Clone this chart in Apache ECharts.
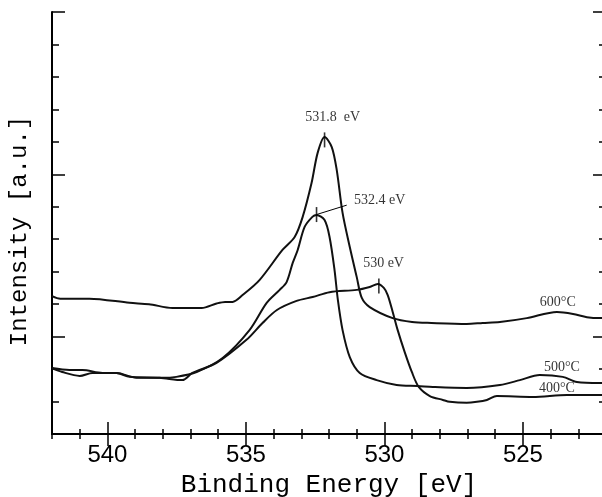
<!DOCTYPE html>
<html>
<head>
<meta charset="utf-8">
<script src="https://cdn.jsdelivr.net/npm/echarts@6/dist/echarts.min.js"></script>
<style>
html,body{margin:0;padding:0;background:#fff;}
#c{width:602px;height:497px;}
</style>
</head>
<body>
<div id="c"></div>
<script>
// Binding energy (eV) vs intensity (a.u.)
const curve600 = [
  [542.0,4.25],[541.7,4.17],[540.65,4.17],[539.2,4.04],[538.5,4.0],[537.65,3.88],[536.6,3.88],
  [536.06,4.02],[535.75,4.07],[535.48,4.07],[535.12,4.28],[534.51,4.74],[533.68,5.67],
  [533.24,6.07],[532.95,6.69],[532.63,7.73],[532.41,8.66],[532.16,9.15],[531.9,8.84],[531.72,8.13],
  [531.51,6.81],[531.25,5.76],[531.0,4.84],[530.82,4.2],[530.53,3.91],[529.7,3.57],[529.0,3.45],
  [528.3,3.42],[527.03,3.39],[526.45,3.42],[525.83,3.45],[524.86,3.57],[523.77,3.76],[523.19,3.7],
  [522.69,3.6],[522.22,3.57],[522.0,3.57]
];
const curve500 = [
  [542.0,2.03],[541.37,1.97],[540.9,1.97],[540.18,1.88],[539.67,1.88],[538.95,1.73],[538.01,1.73],
  [537.51,1.76],[536.78,1.91],[535.84,2.34],[534.87,3.2],[534.25,4.04],[533.78,4.44],[533.53,4.68],
  [533.31,5.27],[533.13,5.67],[532.88,6.38],[532.6,6.69],[532.45,6.75],[532.16,6.59],[531.98,6.07],
  [531.8,5.05],[531.68,4.13],[531.51,3.2],[531.25,2.37],[530.89,1.88],[530.28,1.66],[529.56,1.51],
  [528.8,1.48],[528.25,1.45],[527.03,1.42],[525.83,1.51],[525.11,1.66],[524.39,1.82],[523.56,1.76],
  [523.05,1.6],[522.22,1.57],[522.0,1.57]
];
const curve400 = [
  [542.0,2.03],[541.63,1.91],[541.0,1.79],[540.54,1.88],[539.67,1.88],[539.2,1.76],[538.12,1.73],
  [537.29,1.66],[536.93,1.88],[536.06,2.19],[534.98,2.9],[534.4,3.42],[533.88,3.82],[533.17,4.1],
  [532.59,4.22],[531.98,4.37],[531.0,4.44],[530.53,4.53],[530.24,4.62],[530.02,4.5],[529.88,4.28],
  [529.7,3.76],[529.52,3.2],[529.27,2.53],[529.01,1.91],[528.76,1.45],[528.36,1.17],[527.89,1.05],
  [527.64,0.99],[527.03,0.96],[526.66,0.99],[526.3,1.05],[525.94,1.17],[524.64,1.14],[523.41,1.2],
  [522.22,1.2],[522.0,1.2]
];
const peakMarks = [[532.16,9.06],[532.45,6.76],[530.2,4.56]];
const leader = [[532.45,6.76],[531.36,7.05]];
const notes = [
  {name:'531.8  eV', value:[531.87,9.77]},
  {name:'532.4 eV', value:[530.17,7.21]},
  {name:'530 eV', value:[530.03,5.27]},
  {name:'600\u00b0C', value:[523.74,4.07]},
  {name:'500\u00b0C', value:[523.59,2.06]},
  {name:'400\u00b0C', value:[523.77,1.42]}
];
const xMajor = [525,530,535,540];
const yMajor = [3,8,13];
const xTitle = 'Binding Energy [eV]';
const yTitle = 'Intensity [a.u.]';

const ink = '#000';
const chart = echarts.init(document.getElementById('c'), null, {renderer:'canvas'});
const lineAx = {show:true, lineStyle:{color:ink, width:2}};
const noLine = {show:false};
function xAx(pos, major, extra){
  return Object.assign({
    type:'value', position:pos, min:522, max:542, inverse:true, interval:1,
    axisLine: major ? noLine : lineAx,
    axisTick: major ? {show:true, inside:true, length:12, customValues:xMajor, lineStyle:{color:ink,width:1.5}}
                    : {show:true, inside:true, length:5, lineStyle:{color:ink,width:1.5}},
    axisLabel:{show:false}, splitLine:{show:false}
  }, extra||{});
}
function yAx(pos, major, extra){
  return Object.assign({
    type:'value', position:pos, min:0, max:13, interval:1,
    axisLine: major ? noLine : lineAx,
    axisTick: major ? {show:true, inside:true, length:13, customValues:yMajor, lineStyle:{color:ink,width:1.5}}
                    : {show:true, inside:true, length:7, lineStyle:{color:ink,width:1.5}},
    axisLabel:{show:false}, splitLine:{show:false}
  }, extra||{});
}
const lineSeries = (name, data) => ({
  name, type:'line', data, showSymbol:false, symbol:'none', smooth:0.3,
  lineStyle:{color:'#111', width:2}, xAxisIndex:0, yAxisIndex:0, z:3
});
chart.setOption({
  animation:false,
  backgroundColor:'#fff',
  grid:{left:52, right:-4, top:12, bottom:63, outerBoundsMode:'none', containLabel:false},
  xAxis:[
    xAx('bottom', false, {
      axisLabel:{show:true, margin:9, color:ink, fontSize:24, fontFamily:'Liberation Sans',
        formatter: v => (v % 5 === 0 ? String(v) : '')},
      name:xTitle, nameLocation:'middle', nameGap:35,
      nameTextStyle:{color:ink, fontSize:26, fontFamily:'Liberation Mono'}
    }),
    xAx('bottom', true),
    xAx('top', false),
    xAx('top', true)
  ],
  yAxis:[
    yAx('left', false, {
      name:yTitle, nameLocation:'middle', nameGap:20,
      nameTextStyle:{color:ink, fontSize:24, fontFamily:'Liberation Mono', padding:[0,16,0,0]}
    }),
    yAx('left', true),
    yAx('right', false),
    yAx('right', true)
  ],
  series:[
    lineSeries('600 °C', curve600),
    lineSeries('500 °C', curve500),
    lineSeries('400 °C', curve400),
    {type:'line', data:leader, symbol:'none', lineStyle:{color:ink, width:1}, z:3},
    {type:'scatter', data:peakMarks, symbol:'rect', symbolSize:[1.6,15],
      itemStyle:{color:ink}, z:4},
    {type:'scatter', data:notes, symbolSize:1, itemStyle:{color:'rgba(0,0,0,0)'},
      label:{show:true, position:'inside', formatter: p => p.name, color:ink,
        fontSize:14, fontFamily:'Liberation Serif'}, z:5}
  ]
});
</script>
</body>
</html>
